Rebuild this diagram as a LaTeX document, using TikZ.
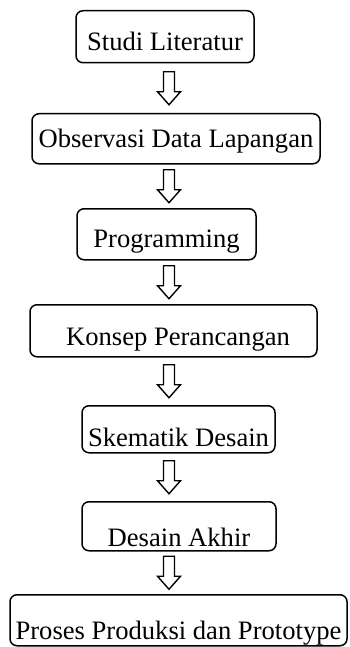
\documentclass[tikz,border=0pt]{standalone}
\usepackage{fontspec}
\setmainfont{Liberation Serif}
\usepackage{tikz}
\usetikzlibrary{calc}

\begin{document}
\begin{tikzpicture}[
  x=0.5pt, y=-0.5pt,
  font=\fontsize{13.3}{16}\selectfont,
  stage/.style={
    rectangle, rounded corners=3.5pt,
    draw=black, line width=0.75pt,
    inner xsep=0pt, inner ysep=0pt,
    anchor=north
  },
  hollowarr/.style={draw=black, fill=white, line width=0.7pt, line join=miter},
]
\useasboundingbox (0,0) rectangle (349,647);

% Stages
\node[stage, minimum width=89pt, text height=20pt, text depth=6pt] (lit) at (165,10) {Studi Literatur};
\node[stage, minimum width=144pt, text height=17pt, text depth=8pt] (obs) at (176,113) {Observasi Data Lapangan};
\node[stage, minimum width=89.5pt, text height=19.5pt, text depth=6pt] (prog) at (166.5,208) {Programming};
\node[stage, minimum width=143.5pt, text height=20.5pt, text depth=5.5pt] (konsep) at (173.5,304) {\hspace*{4.5pt}Konsep Perancangan};
\node[stage, minimum width=96.5pt, text height=20.5pt, text depth=3pt] (skema) at (178.5,405) {Skematik Desain};
\node[stage, minimum width=97pt, text height=22.5pt, text depth=2pt] (akhir) at (179,501) {Desain Akhir};
\node[stage, minimum width=168.5pt, text height=22.5pt, text depth=3pt] (proto) at (178.5,594) {Proses Produksi dan Prototype};

% Arrows
\coordinate (axis) at (169,0);
\foreach \a/\b in {lit/obs, obs/prog, prog/konsep, konsep/skema, skema/akhir, akhir/proto} {
  \path ($(axis |- \a.south)!0.5!(axis |- \b.north)$) coordinate (m);
  \draw[hollowarr] ($(m)+(-5.5,-16.5)$) -- ++(0,20) -- ++(-6,0) -- ++(11.5,13)
    -- ++(11.5,-13) -- ++(-6,0) -- ++(0,-20) -- cycle;
}

\end{tikzpicture}
\end{document}
